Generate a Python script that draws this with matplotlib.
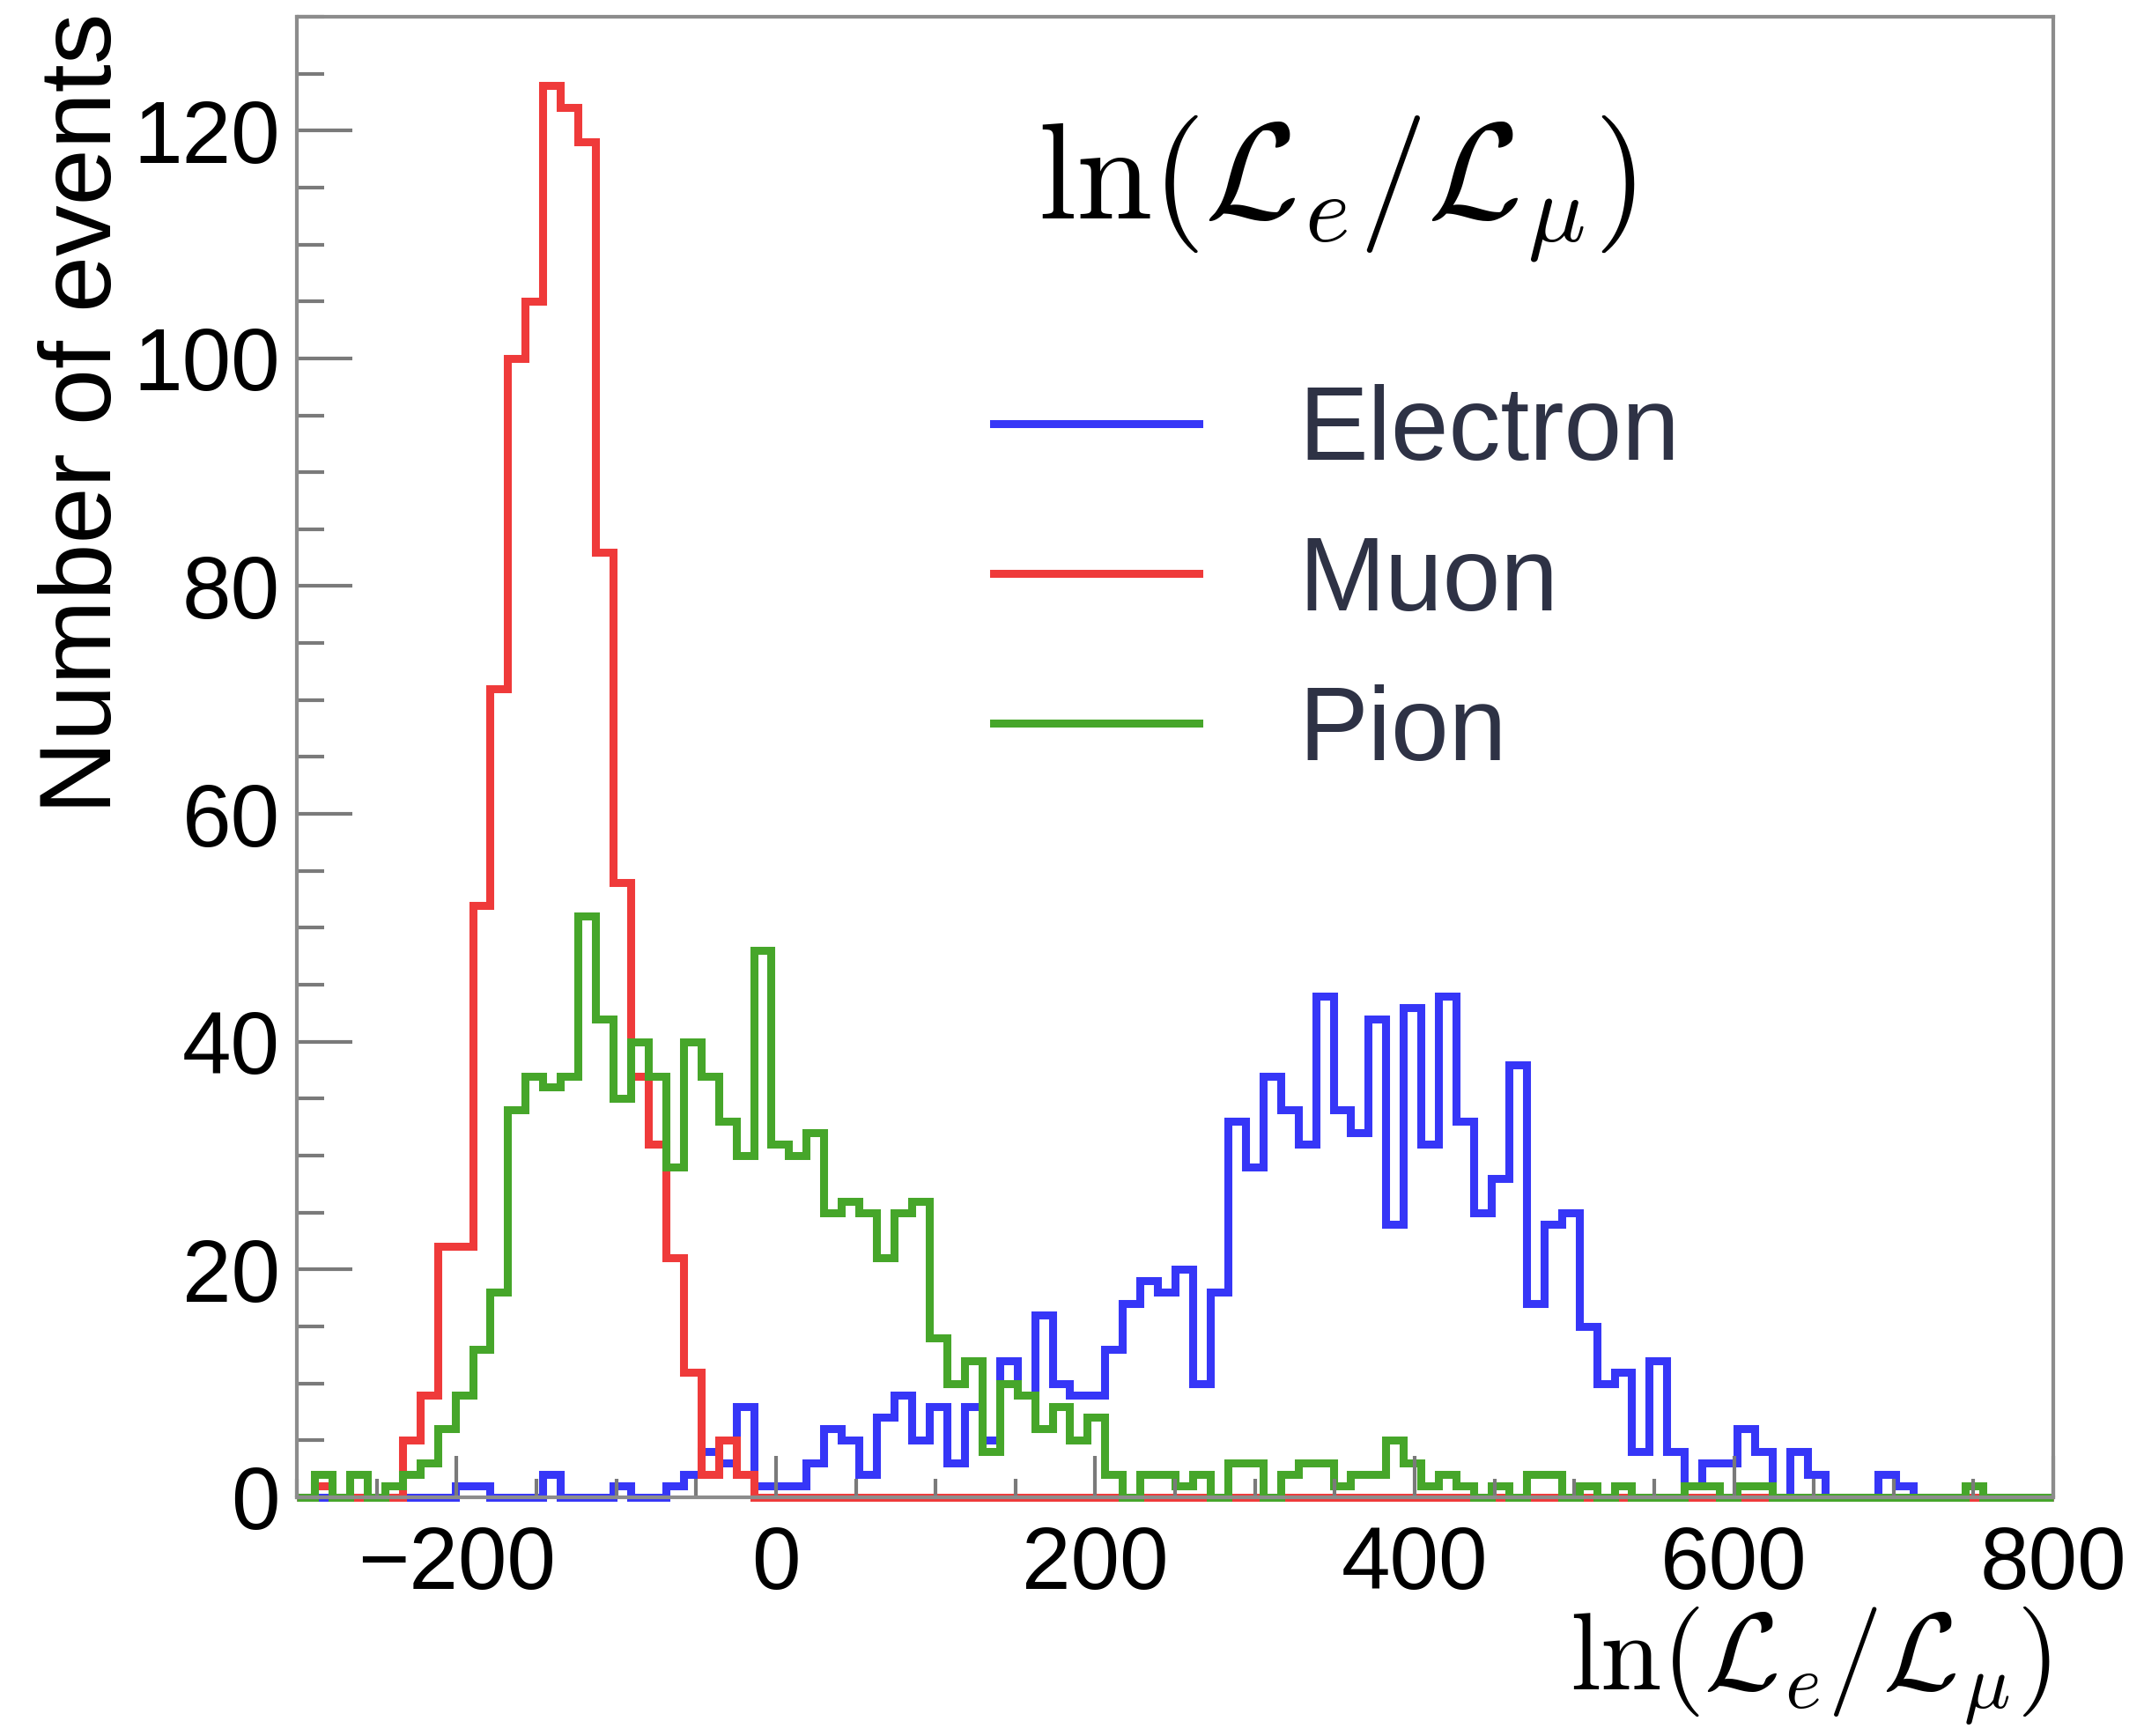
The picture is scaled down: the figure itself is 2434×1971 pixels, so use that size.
import matplotlib
matplotlib.use('Agg')
import matplotlib.pyplot as plt
import numpy as np
from matplotlib.ticker import MultipleLocator
from matplotlib.lines import Line2D

# binning: 100 bins from -300 to 800 (width 11)
x_lo, x_hi, n_bins = -300, 800, 100

# counts per bin
electron = [0, 0, 0, 0, 0, 0, 0, 0, 0, 1,
            1, 0, 0, 0, 2, 0, 0, 0, 1, 0,
            0, 1, 2, 4, 3, 8, 1, 1, 1, 3,
            6, 5, 2, 7, 9, 5, 8, 3, 8, 5,
            12, 9, 16, 10, 9, 9, 13, 17, 19, 18,
            20, 10, 18, 33, 29, 37, 34, 31, 44, 34,
            32, 42, 24, 43, 31, 44, 33, 25, 28, 38,
            17, 24, 25, 15, 10, 11, 4, 12, 4, 1,
            3, 3, 6, 4, 0, 4, 2, 0, 0, 0,
            2, 1, 0, 0, 0, 0, 0, 0, 0, 0]

muon = [0, 1, 0, 0, 0, 0, 5, 9, 22, 22,
        52, 71, 100, 105, 124, 122, 119, 83, 54, 37,
        31, 21, 11, 2, 5, 2, 0, 0, 0, 0] + [0] * 70

pion = [0, 2, 0, 2, 0, 1, 2, 3, 6, 9,
        13, 18, 34, 37, 36, 37, 51, 42, 35, 40,
        37, 29, 40, 37, 33, 30, 48, 31, 30, 32,
        25, 26, 25, 21, 25, 26, 14, 10, 12, 4,
        10, 9, 6, 8, 5, 7, 2, 0, 2, 2,
        1, 2, 0, 3, 3, 0, 2, 3, 3, 1,
        2, 2, 5, 3, 1, 2, 1, 0, 1, 0,
        2, 2, 0, 1, 0, 1, 0, 0, 0, 1,
        1, 0, 1, 1, 0, 0, 0, 0, 0, 0,
        0, 0, 0, 0, 0, 1, 0, 0, 0, 0]

labels = ['Electron', 'Muon', 'Pion']
colors = ['#3636f7', '#ef3a3a', '#46a62a']
header = r'$\ln(\mathcal{L}_e/\mathcal{L}_\mu)$'

plt.rcParams['font.family'] = ['Liberation Sans', 'DejaVu Sans']
plt.rcParams['mathtext.fontset'] = 'cm'

edges = np.linspace(x_lo, x_hi, n_bins + 1)

fig = plt.figure(figsize=(24.34, 19.71), dpi=100)
ax = fig.add_axes([0.1385, 0.1375, 0.8192, 0.8529])

for vals, c in zip([electron, muon, pion], colors):
    ax.stairs(vals, edges, color=c, lw=6.5, baseline=0, clip_on=False)

ax.set_xlim(x_lo, x_hi)
ax.set_ylim(0, 130)

ax.xaxis.set_major_locator(MultipleLocator(200))
ax.xaxis.set_minor_locator(MultipleLocator(50))
ax.yaxis.set_major_locator(MultipleLocator(20))
ax.yaxis.set_minor_locator(MultipleLocator(5))

for sp in ax.spines.values():
    sp.set_color('#8c8c8c')
    sp.set_linewidth(3)

ax.tick_params(which='both', direction='in', top=False, right=False,
               color='#7a7a7a', width=3, labelsize=72)
ax.tick_params(axis='y', which='major', length=45, pad=14)
ax.tick_params(axis='y', which='minor', length=22)
ax.tick_params(axis='x', which='major', length=34, pad=22)
ax.tick_params(axis='x', which='minor', length=15)

fig.text(96 / 2434, 1 - 15 / 1971, 'Number of events', rotation=90,
         ha='center', va='top', fontsize=83)
fig.text(2328 / 2434, 1 - 1892 / 1971, header, ha='right', va='center',
         fontsize=90)
fig.text(1518 / 2434, 1 - 214 / 1971, header, ha='center', va='center',
         fontsize=112)

handles = [Line2D([], [], color=c, lw=6.5) for c in colors]
leg = ax.legend(handles, labels, loc='center left',
                bbox_to_anchor=(1128 / 2434, 1 - 662 / 1971),
                bbox_transform=fig.transFigure, frameon=False,
                fontsize=85, handlelength=1.97, handletextpad=0.96,
                labelspacing=0.5, borderpad=0, borderaxespad=0)
for t in leg.get_texts():
    t.set_color('#2e3245')

fig.savefig('out.png', dpi=100)
